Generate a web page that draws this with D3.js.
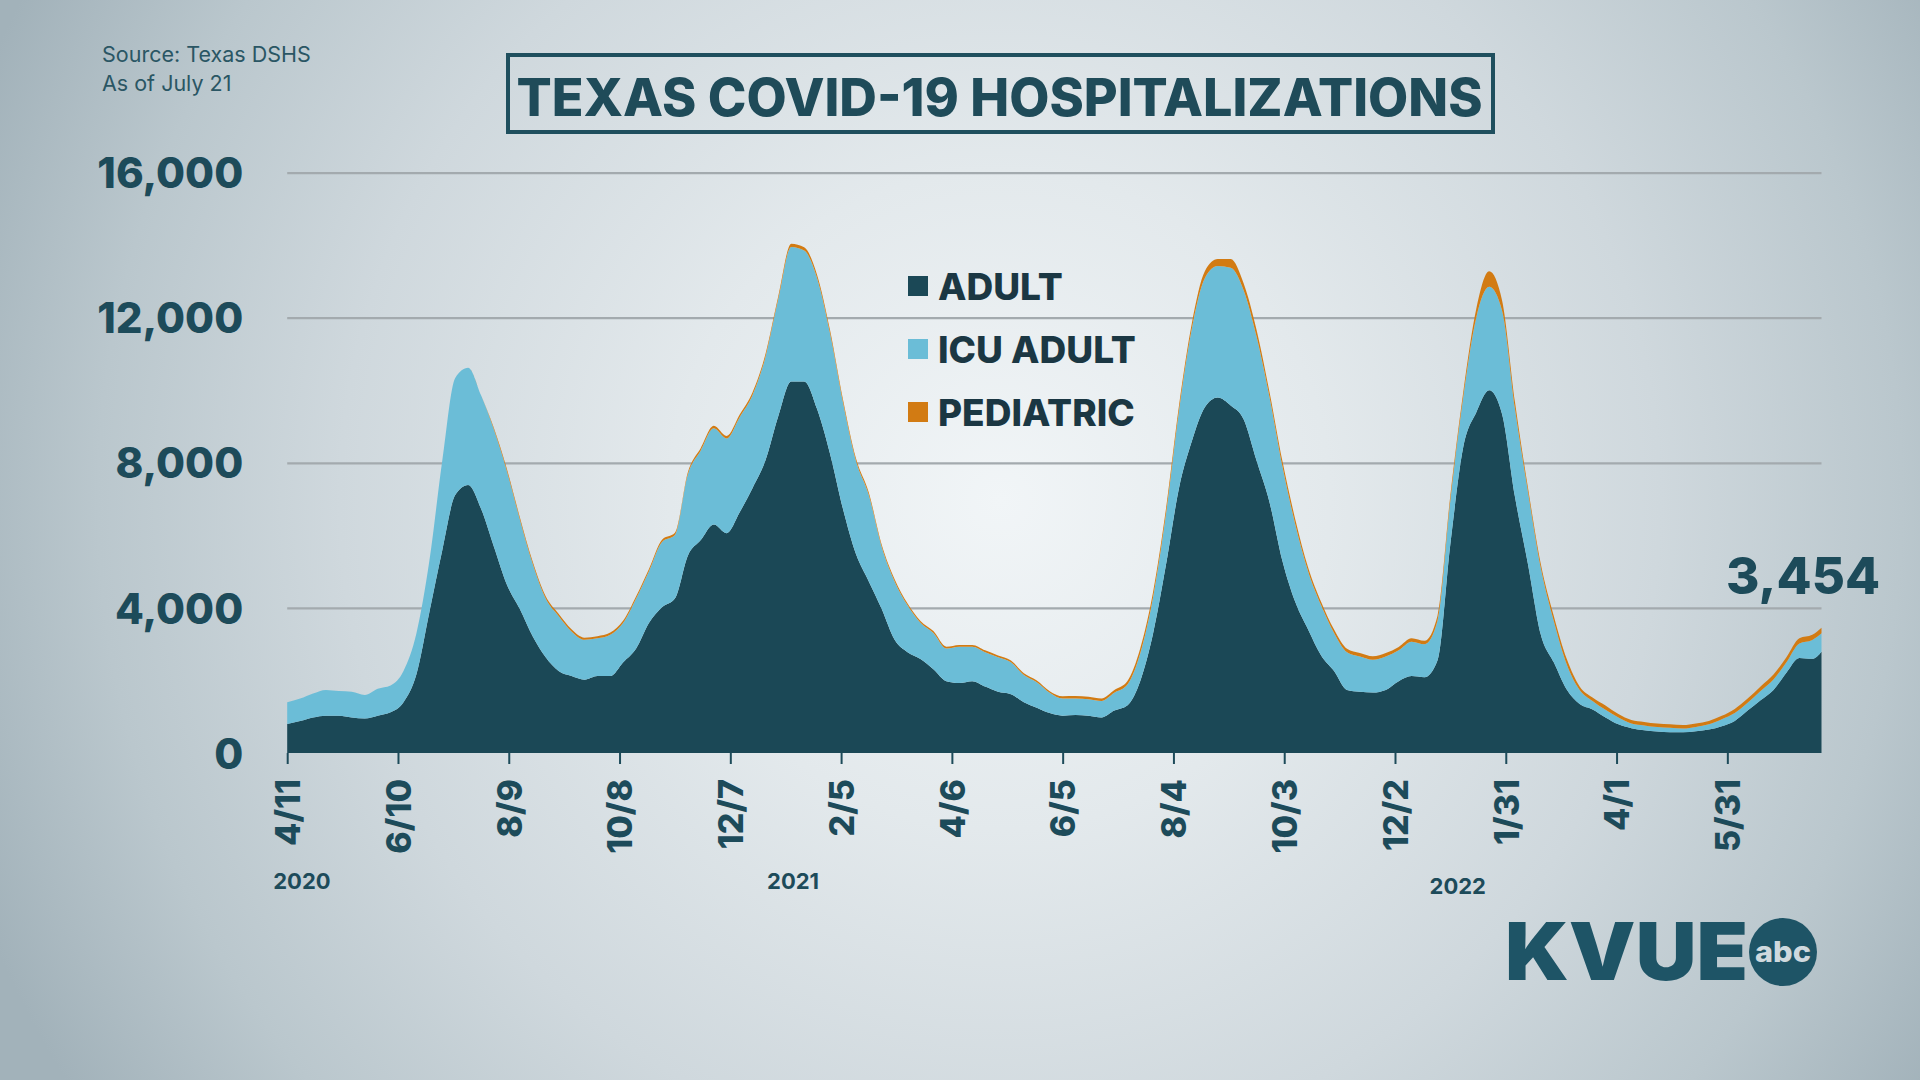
<!DOCTYPE html>
<html>
<head>
<meta charset="utf-8">
<script src="https://cdn.jsdelivr.net/npm/d3@7"></script>
<style>
html,body{margin:0;padding:0;background:#d5dee2;overflow:hidden;}
svg{display:block;}
text{font-family:Inter,"Open Sans",sans-serif;}
</style>
</head>
<body>
<svg id="chart" width="1920" height="1080"></svg>
<script>
// ---------------- DATA (weekly samples) ----------------
const startDate = "2020-04-11";
const stepDays = 7;
const lastDate = "2022-07-21";

const adult = [
  800, 880, 980, 1030, 1030, 980, 950, 1030, 1120, 1400,
  2170, 3880, 5590, 7110, 7390, 6730, 5680, 4640, 3970, 3210,
  2640, 2260, 2120, 2020, 2120, 2120, 2500, 2880, 3590, 4020,
  4260, 5440, 5870, 6300, 6060, 6630, 7300, 8060, 9290, 10240,
  10240, 9480, 8250, 6730, 5490, 4730, 3970, 3120, 2780, 2590,
  2310, 1980, 1930, 1980, 1830, 1690, 1620, 1400, 1250, 1100,
  1030, 1045, 1026, 980, 1170, 1310, 1980, 3300, 5200, 7300,
  8600, 9530, 9800, 9580, 9200, 8060, 6920, 5300, 4160, 3400,
  2690, 2260, 1740, 1690, 1670, 1740, 1980, 2120, 2090, 2550,
  5770, 8440, 9390, 10000, 9340, 7060, 5210, 3260, 2500, 1750,
  1350, 1200, 980, 790, 685, 630, 590, 570, 570, 600,
  645, 740, 885, 1170, 1455, 1740, 2215, 2620, 2595, 2793
];
const icuAdult = [
  600, 620, 660, 710, 680, 710, 650, 740, 740, 860,
  1130, 1420, 2470, 3230, 3230, 3130, 3230, 3130, 2470, 2000,
  1620, 1520, 1230, 1100, 1040, 1140, 1090, 1380, 1430, 1800,
  1750, 2240, 2470, 2650, 2610, 2620, 2560, 2850, 3230, 3710,
  3610, 3610, 3320, 2940, 2570, 2380, 1710, 1610, 1290, 1000,
  1000, 900, 1000, 950, 950, 950, 880, 750, 700, 560,
  470, 456, 456, 455, 490, 570, 760, 1000, 1400, 2130,
  3110, 3560, 3625, 3800, 3560, 3420, 2900, 2610, 2140, 1600,
  1380, 1050, 1040, 970, 900, 920, 850, 950, 910, 1090,
  1200, 1380, 2610, 2850, 2850, 2420, 1990, 1830, 1140, 700,
  390, 235, 210, 190, 130, 130, 125, 125, 105, 120,
  145, 190, 215, 215, 255, 285, 285, 400, 520, 507
];
const pediatric = [
  0, 0, 0, 0, 0, 0, 0, 0, 0, 0,
  0, 0, 0, 0, 0, 0, 40, 60, 60, 60,
  60, 60, 60, 60, 60, 60, 60, 60, 60, 60,
  60, 60, 70, 70, 70, 75, 80, 80, 80, 90,
  90, 90, 90, 80, 70, 70, 60, 60, 50, 50,
  50, 50, 50, 50, 50, 50, 50, 50, 50, 45,
  65, 67, 67, 66, 76, 95, 140, 147, 150, 145,
  145, 190, 190, 240, 190, 190, 140, 145, 140, 110,
  95, 95, 95, 95, 95, 95, 95, 95, 95, 140,
  140, 140, 240, 430, 285, 190, 120, 115, 140, 145,
  95, 95, 120, 95, 95, 95, 95, 95, 95, 95,
  95, 95, 115, 115, 125, 140, 140, 145, 145, 154
];

const seriesKeys = ["adult", "icu", "pediatric"];
const seriesNames = ["ADULT", "ICU ADULT", "PEDIATRIC"];
const seriesColors = ["#1b4856", "#6bbdd7", "#d27b13"];

const yTicks = [0, 4000, 8000, 12000, 16000];
const tickDates = ["2020-04-11","2020-06-10","2020-08-09","2020-10-08","2020-12-07","2021-02-05",
  "2021-04-06","2021-06-05","2021-08-04","2021-10-03","2021-12-02","2022-01-31","2022-04-01","2022-05-31"];
const tickLabels = ["4/11","6/10","8/9","10/8","12/7","2/5","4/6","6/5","8/4","10/3","12/2","1/31","4/1","5/31"];
const yearLabels = ["2020", "2021", "2022"];
const yearLabelDates = ["2020-04-19", "2021-01-10", "2022-01-05"];

const titleText = "TEXAS COVID-19 HOSPITALIZATIONS";
const sourceLines = ["Source: Texas DSHS", "As of July 21"];

// ---------------- BUILD ----------------
const parse = d3.utcParse("%Y-%m-%d");
const dates = d3.range(0, 827, stepDays).map(i => d3.utcDay.offset(parse(startDate), i));
dates.push(parse(lastDate));
const rows = dates.map((d, i) => ({date: d, adult: adult[i], icu: icuAdult[i], pediatric: pediatric[i]}));

const svg = d3.select("#chart");
const W = 1920, H = 1080;
const plot = {left: 287.2, right: 1821.5, top: 172.6, bottom: 753};

// background
const defs = svg.append("defs");
const rg = defs.append("radialGradient").attr("id", "bg")
  .attr("gradientUnits", "userSpaceOnUse")
  .attr("cx", 1000).attr("cy", 500).attr("r", 1100);
[[0, "#f1f5f7"], [0.3, "#e3e9ec"], [0.6, "#cfd8dd"], [0.82, "#bac7cd"], [1, "#a2b2ba"]]
  .forEach(([o, c]) => rg.append("stop").attr("offset", o).attr("stop-color", c));
svg.append("rect").attr("width", W).attr("height", H).attr("fill", "url(#bg)");

const x = d3.scaleUtc().domain([parse(startDate), parse(lastDate)]).range([plot.left, plot.right]);
const y = d3.scaleLinear().domain([0, 16000]).range([plot.bottom, plot.top]);

// gridlines
const grid = svg.append("g").attr("transform", `translate(${plot.left},0)`)
  .call(d3.axisLeft(y).tickValues(yTicks.filter(v => v > 0)).tickSize(-(plot.right - plot.left)).tickFormat(""));
grid.select(".domain").remove();
grid.selectAll(".tick line").attr("stroke", "#a3aaae").attr("stroke-width", 2.2);

// stacked areas
const stack = d3.stack().keys(seriesKeys);
const layers = stack(rows);
const area = d3.area()
  .x(d => x(d.data.date))
  .y0(d => y(d[0]))
  .y1(d => y(d[1]))
  .curve(d3.curveMonotoneX);
svg.append("g").selectAll("path").data(layers).join("path")
  .attr("d", area)
  .attr("fill", (d, i) => seriesColors[i]);

// y axis labels
const yAxis = svg.append("g").attr("transform", `translate(${plot.left},0)`)
  .call(d3.axisLeft(y).tickValues(yTicks).tickSize(0).tickPadding(44).tickFormat(d3.format(",")));
yAxis.select(".domain").remove();
yAxis.selectAll("text")
  .attr("fill", "#1d4b5a")
  .style("font-family", "Inter, sans-serif")
  .style("font-weight", 800)
  .style("font-size", "42px")
  .attr("dy", "0.36em");

// x axis
const xAxis = svg.append("g").attr("transform", `translate(0,${plot.bottom})`)
  .call(d3.axisBottom(x).tickValues(tickDates.map(parse)).tickSize(11)
    .tickFormat((d, i) => tickLabels[i]));
xAxis.select(".domain").remove();
xAxis.selectAll(".tick line").attr("stroke", "#1d4b5a").attr("stroke-width", 2);
xAxis.selectAll(".tick text")
  .attr("fill", "#1d4b5a")
  .style("font-family", "Inter, sans-serif")
  .style("font-weight", 800)
  .style("font-size", "34px")
  .attr("transform", "rotate(-90)")
  .attr("x", -26).attr("y", 0).attr("dy", "0.36em")
  .style("text-anchor", "end");

// year labels
const yearY = [889, 889, 894];
svg.append("g").selectAll("text").data(yearLabels).join("text")
  .attr("x", (d, i) => x(parse(yearLabelDates[i])))
  .attr("y", (d, i) => yearY[i])
  .attr("text-anchor", "middle")
  .attr("fill", "#1d4b5a")
  .style("font-weight", 700)
  .style("font-size", "22px")
  .text(d => d);

// last value label
const lastRow = rows[rows.length - 1];
const lastTotal = lastRow.adult + lastRow.icu + lastRow.pediatric;
svg.append("text")
  .attr("x", 1880).attr("y", 594)
  .attr("text-anchor", "end")
  .attr("fill", "#1d4b5a")
  .style("font-weight", 800)
  .style("font-size", "51px")
  .text(d3.format(",")(lastTotal));

// legend
const legend = svg.append("g").selectAll("g").data(seriesNames).join("g")
  .attr("transform", (d, i) => `translate(908,${300 + i * 63})`);
legend.append("rect").attr("x", 0).attr("y", -24).attr("width", 20).attr("height", 20)
  .attr("fill", (d, i) => seriesColors[i]);
legend.append("text").attr("x", 30).attr("y", 0)
  .attr("fill", "#1b3743")
  .style("font-weight", 800)
  .style("font-size", "37px")
  .text(d => d);

// title
svg.append("rect").attr("x", 508).attr("y", 55).attr("width", 985).attr("height", 77)
  .attr("fill", "none").attr("stroke", "#1f4f5e").attr("stroke-width", 4);
svg.append("text").attr("x", 999.5).attr("y", 116)
  .attr("text-anchor", "middle")
  .attr("fill", "#1f4b59")
  .attr("textLength", 966).attr("lengthAdjust", "spacingAndGlyphs")
  .style("font-weight", 800)
  .style("font-size", "52px")
  .text(titleText);

// source
svg.append("g").selectAll("text").data(sourceLines).join("text")
  .attr("x", 102).attr("y", (d, i) => 61.7 + i * 29)
  .attr("fill", "#2a5664")
  .style("font-weight", 400)
  .style("font-size", "21.5px")
  .text(d => d);

// logo
const logo = svg.append("g");
logo.append("text").attr("x", 1505).attr("y", 980)
  .attr("fill", "#1e5466")
  .attr("textLength", 243).attr("lengthAdjust", "spacingAndGlyphs")
  .style("font-weight", 900)
  .style("font-size", "80px")
  .text("KVUE");
logo.append("circle").attr("cx", 1783).attr("cy", 952).attr("r", 34).attr("fill", "#1e5466");
logo.append("text").attr("x", 1783).attr("y", 962)
  .attr("text-anchor", "middle")
  .attr("fill", "#cfd9de")
  .attr("textLength", 56).attr("lengthAdjust", "spacingAndGlyphs")
  .style("font-weight", 800)
  .style("font-size", "29px")
  .text("abc");
</script>
</body>
</html>
